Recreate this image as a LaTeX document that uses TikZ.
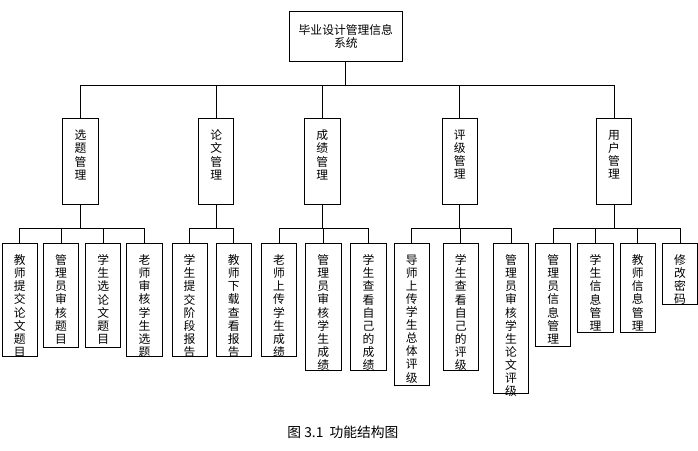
\documentclass[tikz,border=0pt]{standalone}
\usepackage{fontspec}
\setmainfont{Noto Sans CJK SC}
\begin{document}
\begin{tikzpicture}[x=0.75pt,y=-0.75pt,
  box/.style={draw=black,line width=0.6pt,fill=white,inner sep=0pt,minimum width=27pt},
  lab/.style={font=\fontsize{9}{10}\selectfont,align=center,inner sep=0pt},
  ln/.style={line width=0.6pt}]
\path (0,0) rectangle (698,459);
\newcommand{\vbx}[5]{% name, cx, ytop, ybottom, text
  \node[box,anchor=north,minimum height={(#4-#3)*0.75pt},
    label={[lab,anchor=north,yshift=-9pt]north:{#5}}] (#1) at (#2,#3) {};}
\node[box,minimum width=86pt,minimum height=37.5pt,lab] (root) at (352,37) {毕业设计管理信息\\系统};
% mids
\vbx{m1}{82}{120}{208}{选\\题\\管\\理}
\vbx{m2}{220}{120}{208}{论\\文\\管\\理}
\vbx{m3}{328}{120}{208}{成\\绩\\管\\理}
\vbx{m4}{468}{120}{208}{评\\级\\管\\理}
\vbx{m5}{625}{120}{208}{用\\户\\管\\理}
% leaves
\vbx{a1}{20}{247}{362}{教\\师\\提\\交\\论\\文\\题\\目}
\vbx{a2}{62}{247}{353}{管\\理\\员\\审\\核\\题\\目}
\vbx{a3}{105}{247}{353}{学\\生\\选\\论\\文\\题\\目}
\vbx{a4}{147}{247}{362}{老\\师\\审\\核\\学\\生\\选\\题}
\vbx{b1}{193}{247}{362}{学\\生\\提\\交\\阶\\段\\报\\告}
\vbx{b2}{238}{247}{362}{教\\师\\下\\载\\查\\看\\报\\告}
\vbx{c1}{284}{247}{362}{老\\师\\上\\传\\学\\生\\成\\绩}
\vbx{c2}{329}{247}{377}{管\\理\\员\\审\\核\\学\\生\\成\\绩}
\vbx{c3}{375}{247}{377}{学\\生\\查\\看\\自\\己\\的\\成\\绩}
\vbx{d1}{419}{247}{392}{导\\师\\上\\传\\学\\生\\总\\体\\评\\级}
\vbx{d2}{469}{247}{377}{学\\生\\查\\看\\自\\己\\的\\评\\级}
\vbx{d3}{520}{247}{400}{管\\理\\员\\审\\核\\学\\生\\论\\文\\评\\级}
\vbx{e1}{563}{247}{352}{管\\理\\员\\信\\息\\管\\理}
\vbx{e2}{606}{247}{338}{学\\生\\信\\息\\管\\理}
\vbx{e3}{649}{247}{338}{教\\师\\信\\息\\管\\理}
\vbx{e4}{692}{247}{309}{修\\改\\密\\码}
% connectors
\foreach \m in {m1,m2,m3,m4,m5}{\draw[ln] (root.south) -- ++(0,25) -| (\m.north);}
\foreach \m/\l in {m1/a1,m1/a2,m1/a3,m1/a4,m2/b1,m2/b2,m3/c1,m3/c2,m3/c3,m4/d1,m4/d2,m4/d3,m5/e1,m5/e2,m5/e3,m5/e4}{
  \draw[ln] (\m.south) -- ++(0,24) -| (\l.north);}
\node[font=\fontsize{10.5}{12}\selectfont,inner sep=0pt] (cap) at (349,440) {图 3.1\ \ 功能结构图};
\end{tikzpicture}
\end{document}
